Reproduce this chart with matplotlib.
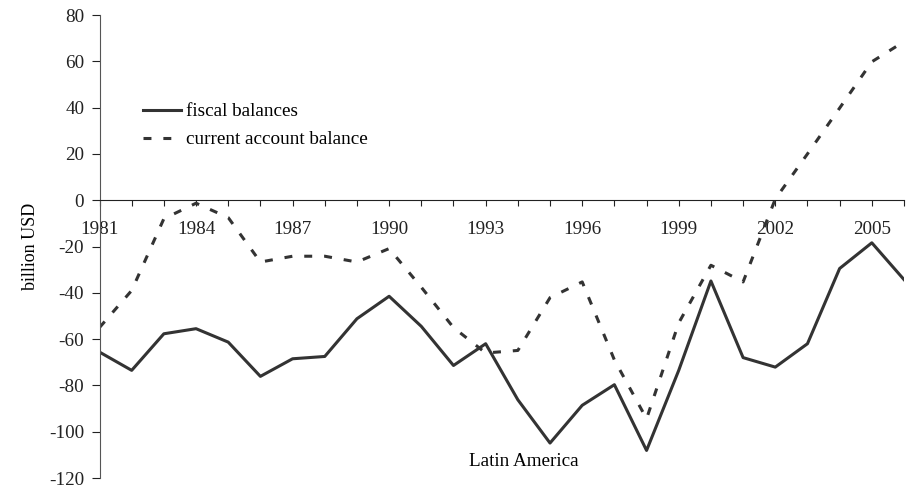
import numpy as np
import matplotlib
matplotlib.use('Agg')
import matplotlib.pyplot as plt

plt.rcParams['font.family'] = ['Liberation Serif', 'DejaVu Serif']
plt.rcParams['axes.unicode_minus'] = False

years = list(range(1981, 2007))
fiscal = [-65.6, -73.5, -57.7, -55.5, -61.3, -76.1, -68.5, -67.5, -51.2, -41.5,
          -54.5, -71.4, -62.0, -86.2, -104.9, -88.6, -79.7, -108.1, -73.5, -34.9,
          -68.0, -72.1, -62.0, -29.5, -18.4, -34.3]
current = [-55.0, -39.0, -8.0, -1.3, -7.5, -26.7, -24.2, -24.2, -26.7, -20.9,
           -37.6, -55.0, -66.0, -64.9, -42.1, -35.3, -69.0, -94.4, -53.0, -28.1,
           -35.3, 0.5, 20.0, 39.8, 59.8, 68.5]
xtick_labels = [str(y) if (y - 1981) % 3 == 0 else '' for y in years]

col = '#333333'
fs = 13.8

fig = plt.figure(figsize=(9.1, 4.9), dpi=100)
ax = fig.add_axes([99.5 / 910, 1 - 478 / 490, (904 - 99.5) / 910, (478 - 15) / 490])

ax.plot(years, fiscal, color=col, lw=2.2, label='fiscal balances')
ax.plot(years, current, color=col, lw=2.2, dashes=(2.6, 3.9), label='current account balance')

ax.set_xlim(1981, 2006)
ax.set_ylim(-120, 80)
ax.set_yticks(np.arange(-120, 81, 20))
ax.set_xticks(years)
ax.set_xticklabels(xtick_labels)

ax.spines['top'].set_visible(False)
ax.spines['right'].set_visible(False)
ax.spines['bottom'].set_position(('data', 0))
ax.spines['left'].set_color('#555555')
ax.spines['bottom'].set_color('#222222')
ax.tick_params(axis='x', direction='out', length=4, pad=11, labelsize=fs, colors='#222222')
ax.tick_params(axis='y', direction='out', length=6, pad=5, labelsize=fs, colors='#222222')

ax.set_ylabel('billion USD', fontsize=13, labelpad=7)
ax.text(1994.2, -113, 'Latin America', ha='center', va='center', fontsize=fs)

ax.legend(loc='upper left', bbox_to_anchor=(143 / 910, 1 - 103 / 490),
          bbox_transform=fig.transFigure, frameon=False, fontsize=fs,
          handlelength=2.0, handletextpad=0.25, borderpad=0, borderaxespad=0,
          labelspacing=0.55)

fig.savefig('out.png', dpi=100)
